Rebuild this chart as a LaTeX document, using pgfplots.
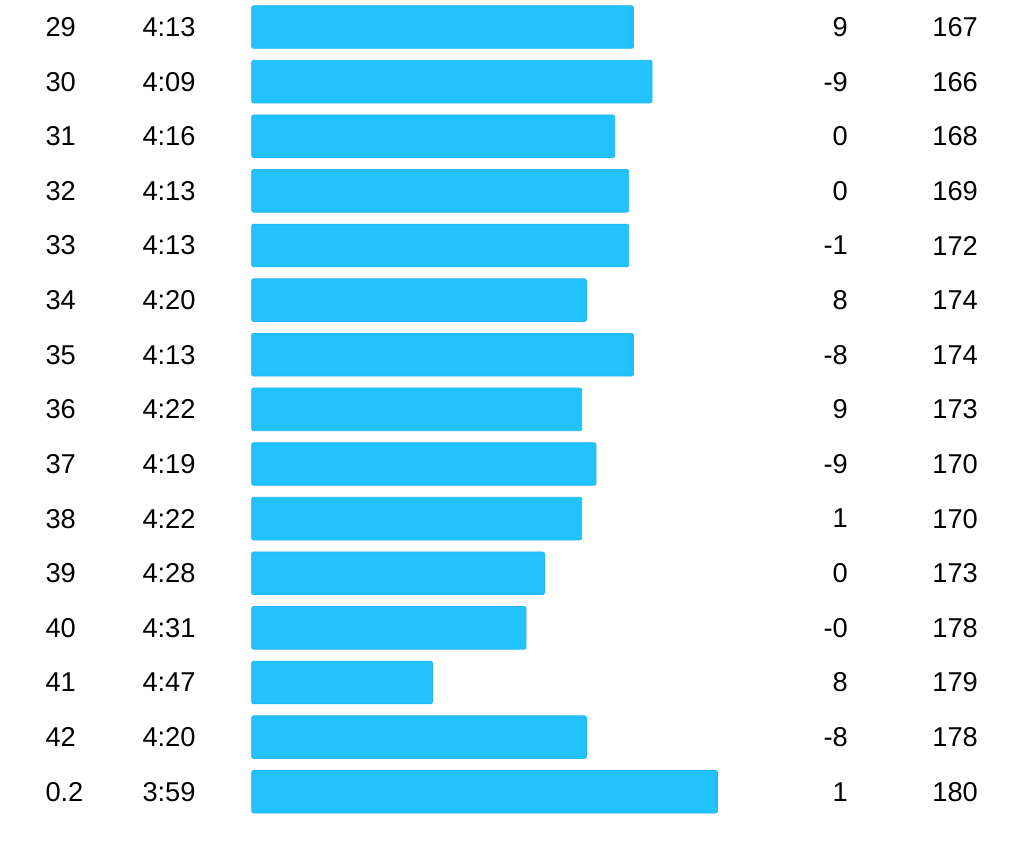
\documentclass[border=0pt]{standalone}
\usepackage{fontspec}
\setmainfont{Liberation Sans}
\usepackage{pgfplots}
\usepackage{pgfplotstable}
\pgfplotsset{compat=1.18}
\definecolor{barblue}{RGB}{34,194,255}
\definecolor{baredge}{RGB}{28,182,245}

% one row per lap: lap, pace, bar length, change, heart rate
\pgfplotstableread{
i  lap pace len   diff hr
0  29  4:13 381.7 9    167
1  30  4:09 400.3 -9   166
2  31  4:16 363.0 0    168
3  32  4:13 377.0 0    169
4  33  4:13 377.0 -1   172
5  34  4:20 334.7 8    174
6  35  4:13 381.7 -8   174
7  36  4:22 330.0 9    173
8  37  4:19 344.3 -9   170
9  38  4:22 330.0 1    170
10 39  4:28 292.7 0    173
11 40  4:31 274.3 -0   178
12 41  4:47 180.7 8    179
13 42  4:20 334.7 -8   178
14 0.2 3:59 465.7 1    180
}\laps

\begin{document}
\begin{tikzpicture}
\begin{axis}[
  scale only axis,
  width=409.6pt, height=340.8pt,
  xmin=-251.7, xmax=772.3,
  ymin=-0.4943, ymax=15.104,
  y dir=reverse,
  hide axis, clip=false,
  every node near coord/.append style={font=\fontsize{10.9}{13}\selectfont, text=black, inner sep=0pt},
]
\addplot[xbar, bar width=0.782, bar shift=0pt, fill=barblue, draw=baredge,
  line width=0.3pt, rounded corners=0.8pt]
  table[x=len, y=i] {\laps};

\addplot[draw=none, mark=none, nodes near coords, point meta=explicit symbolic,
  nodes near coords style={anchor=west}]
  table[x expr=-206.7, y=i, meta=lap] {\laps};
\addplot[draw=none, mark=none, nodes near coords, point meta=explicit symbolic,
  nodes near coords style={anchor=west}]
  table[x expr=-109.7, y=i, meta=pace] {\laps};
\addplot[draw=none, mark=none, nodes near coords, point meta=explicit symbolic,
  nodes near coords style={anchor=east}]
  table[x expr=596.6, y=i, meta=diff] {\laps};
\addplot[draw=none, mark=none, nodes near coords, point meta=explicit symbolic,
  nodes near coords style={anchor=east}]
  table[x expr=726.6, y=i, meta=hr] {\laps};
\end{axis}
\pgfresetboundingbox
\path (current axis.south west) rectangle (current axis.north east);
\end{tikzpicture}
\end{document}
